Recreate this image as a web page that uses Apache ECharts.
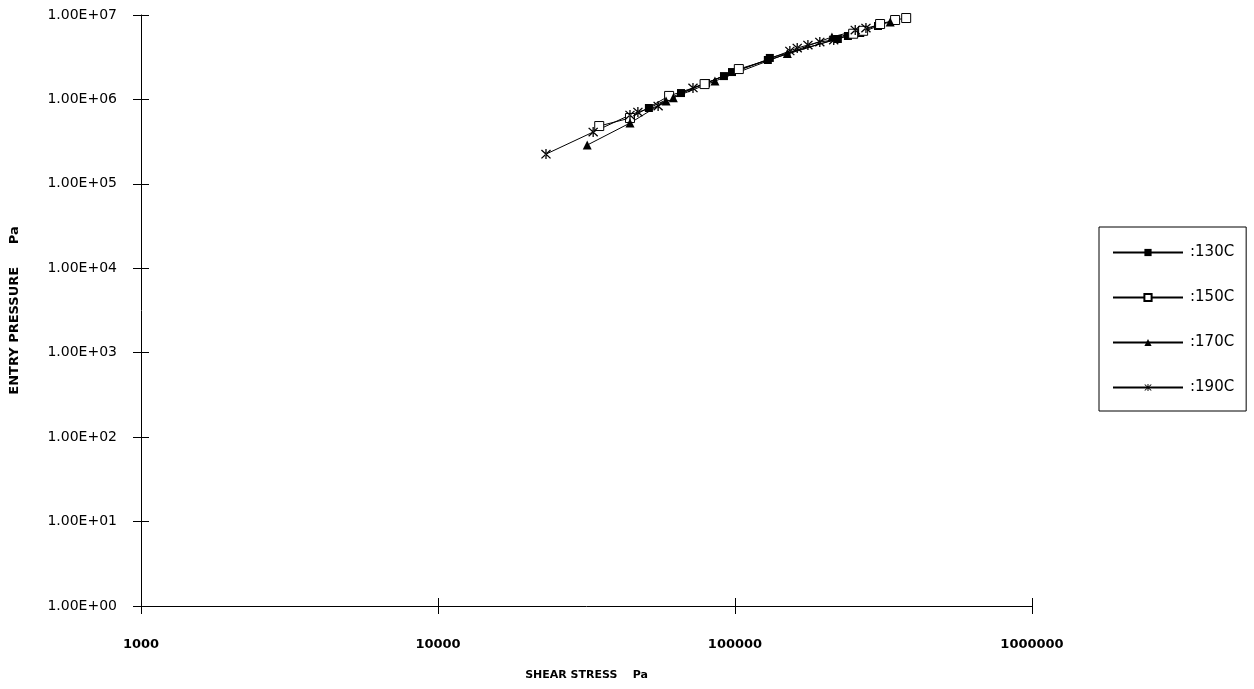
<!DOCTYPE html>
<html>
<head>
<meta charset="utf-8">
<script src="https://cdn.jsdelivr.net/npm/echarts@6/dist/echarts.min.js"></script>
<style>
html, body { margin: 0; padding: 0; background: #fff; }
#chart { width: 1254px; height: 689px; }
</style>
</head>
<body>
<div id="chart"></div>
<script>
// shear stress (Pa) vs entry pressure (Pa)
const seriesNames = [':130C', ':150C', ':170C', ':190C'];

const stress130 = [51300, 65800, 79900, 91800, 97700, 129000, 131000, 222000, 240000, 264000, 303000];
const press130 = [791000, 1190000, 1560000, 1890000, 2110000, 2930000, 3100000, 5200000, 5640000, 6120000, 7410000];

const stress150 = [34900, 44300, 60000, 79000, 103000, 250000, 270000, 308000, 346000, 377000];
const press150 = [484000, 602000, 1100000, 1520000, 2290000, 6000000, 6500000, 7820000, 8720000, 9210000];

const stress170 = [31800, 44300, 58600, 62000, 85600, 150000, 212000, 333000];
const press170 = [288000, 525000, 958000, 1050000, 1650000, 3500000, 5490000, 8260000];

const stress190 = [23100, 33300, 44300, 47100, 55100, 72200, 153000, 162000, 176000, 193000, 215000, 254000, 276000];
const press190 = [225000, 411000, 653000, 709000, 835000, 1370000, 3750000, 4060000, 4410000, 4790000, 5060000, 6640000, 7010000];

const xTicks = ['1000', '10000', '100000', '1000000'];

function pairs(xs, ys) {
    return xs.map(function (x, i) { return [x, ys[i]]; });
}

const asterisk = 'path://M4.4,0h1.2v10h-1.2z M0.4,1.3l0.85,-0.85l8.35,8.35l-0.85,0.85z M9.6,1.3l-0.85,-0.85l-8.35,8.35l0.85,0.85z';

const font = '"DejaVu Sans", sans-serif';

function yFmt(v) {
    const e = Math.round(Math.log10(v));
    return '1.00E+' + (e < 10 ? '0' + e : e);
}

const baseX = {
    type: 'log',
    logBase: 10,
    min: 1000,
    max: 1000000,
    splitLine: { show: false },
    axisLine: { lineStyle: { color: '#000', width: 1 } },
    axisTick: { length: 8, lineStyle: { color: '#000' } },
    minorTick: { show: false }
};
const baseY = {
    type: 'log',
    logBase: 10,
    min: 1,
    max: 10000000,
    splitLine: { show: false },
    axisLine: { lineStyle: { color: '#000', width: 1 } },
    axisTick: { length: 8, lineStyle: { color: '#000' } },
    minorTick: { show: false }
};

const chart = echarts.init(document.getElementById('chart'));
chart.setOption({
    animation: false,
    backgroundColor: '#fff',
    textStyle: { fontFamily: font, color: '#000' },
    grid: { left: 141, right: 222, top: 15, bottom: 83 },
    legend: {
        orient: 'vertical',
        left: 1099,
        top: 227,
        width: 153,
        padding: [18, 12, 16, 13],
        itemGap: 30,
        itemWidth: 70,
        itemHeight: 9,
        borderColor: '#000',
        borderWidth: 1,
        textStyle: { fontFamily: font, fontSize: 15, color: '#000', padding: [0, 0, 0, 2] },
        data: seriesNames
    },
    xAxis: [
        Object.assign({}, baseX, {
            name: 'SHEAR STRESS    Pa',
            nameLocation: 'middle',
            nameGap: 64,
            nameTextStyle: { fontFamily: font, fontWeight: 'bold', fontSize: 11, color: '#000' },
            axisLabel: {
                margin: 32, fontSize: 13, fontWeight: 'bold', color: '#000', fontFamily: font,
                formatter: function (v) { return xTicks[Math.round(Math.log10(v)) - 3]; }
            }
        }),
        Object.assign({}, baseX, {
            axisLine: { show: true, lineStyle: { color: 'rgba(0,0,0,0)' } },
            axisTick: { show: true, inside: true, length: 8, lineStyle: { color: '#000' } },
            axisLabel: { show: false },
            position: 'bottom',
            offset: 0
        })
    ],
    yAxis: [
        Object.assign({}, baseY, {
            name: 'ENTRY PRESSURE     Pa',
            nameLocation: 'middle',
            nameGap: 120,
            nameTextStyle: { fontFamily: font, fontWeight: 'bold', fontSize: 13, color: '#000' },
            axisLabel: { margin: 24, fontSize: 14, color: '#000', fontFamily: font, formatter: yFmt }
        }),
        Object.assign({}, baseY, {
            axisLine: { show: true, lineStyle: { color: 'rgba(0,0,0,0)' } },
            axisTick: { show: true, inside: true, length: 8, lineStyle: { color: '#000' } },
            axisLabel: { show: false },
            position: 'left',
            offset: 0
        })
    ],
    series: [
        {
            name: seriesNames[0], type: 'line', data: pairs(stress130, press130),
            symbol: 'rect', symbolSize: 8,
            lineStyle: { color: '#000', width: 1 },
            itemStyle: { color: '#000', borderColor: '#000', borderWidth: 0 }
        },
        {
            name: seriesNames[1], type: 'line', data: pairs(stress150, press150),
            symbol: 'rect', symbolSize: 9,
            lineStyle: { color: '#000', width: 1 },
            itemStyle: { color: '#fff', borderColor: '#000', borderWidth: 1 }
        },
        {
            name: seriesNames[2], type: 'line', data: pairs(stress170, press170),
            symbol: 'triangle', symbolSize: 9,
            lineStyle: { color: '#000', width: 1 },
            itemStyle: { color: '#000', borderColor: '#000', borderWidth: 0 }
        },
        {
            name: seriesNames[3], type: 'line', data: pairs(stress190, press190),
            symbol: asterisk, symbolSize: 10,
            lineStyle: { color: '#000', width: 1 },
            itemStyle: { color: '#000', borderColor: '#000', borderWidth: 0 }
        }
    ]
});
</script>
</body>
</html>
